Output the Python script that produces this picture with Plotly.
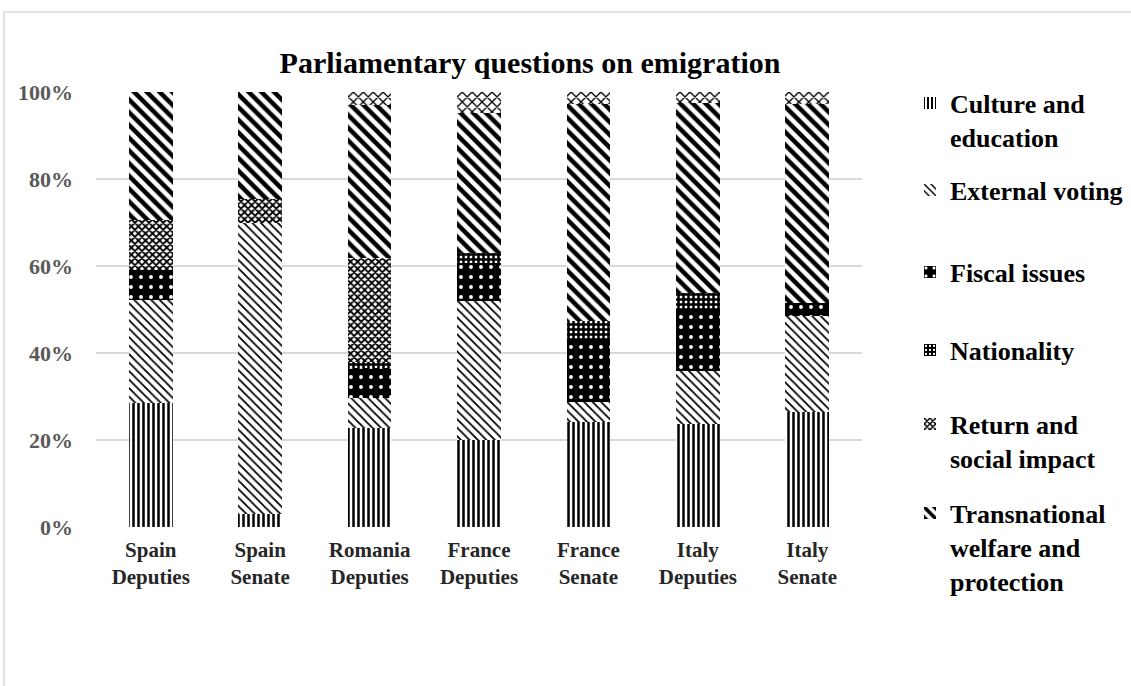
import plotly.graph_objects as go

categories = ["Spain<br>Deputies", "Spain<br>Senate", "Romania<br>Deputies", "France<br>Deputies",
              "France<br>Senate", "Italy<br>Deputies", "Italy<br>Senate"]

culture = [28.4, 3.1, 22.7, 20.1, 24.1, 23.6, 26.5]
external_voting = [23.8, 66.7, 6.9, 31.9, 4.7, 12.3, 22.0]
fiscal = [6.9, 0, 6.9, 8.8, 14.3, 14.0, 3.1]
nationality = [0, 0, 1.5, 2.1, 4.3, 4.0, 0]
return_social = [11.5, 5.7, 23.8, 0, 0, 0, 0]
transnational = [29.4, 24.5, 35.2, 32.2, 49.8, 43.5, 45.6]
other = [0, 0, 3.0, 4.9, 2.8, 2.6, 2.8]

series_names = ["Culture and<br>education", "External voting", "Fiscal issues", "Nationality",
                "Return and<br>social impact", "Transnational<br>welfare and<br>protection", "Other"]
series_values = [culture, external_voting, fiscal, nationality, return_social, transnational, other]

y_tickvals = [0, 20, 40, 60, 80, 100]
y_ticktext = ["0%", "20%", "40%", "60%", "80%", "100%"]

patterns = [
    dict(shape="|", fgcolor="black", bgcolor="white", size=5, solidity=0.5, fillmode="replace"),
    dict(shape="\\", fgcolor="black", bgcolor="white", size=6, solidity=0.3, fillmode="replace"),
    dict(shape=".", fgcolor="white", bgcolor="black", size=10, solidity=0.12, fillmode="replace"),
    dict(shape="+", fgcolor="black", bgcolor="white", size=5, solidity=0.75, fillmode="replace"),
    dict(shape="x", fgcolor="black", bgcolor="white", size=5, solidity=0.6, fillmode="replace"),
    dict(shape="\\", fgcolor="black", bgcolor="white", size=9, solidity=0.5, fillmode="replace"),
    dict(shape="x", fgcolor="black", bgcolor="white", size=7, solidity=0.35, fillmode="replace"),
]

W, H = 1131, 686
L, R, T, B = 96, 862, 92, 527

legend_centers_px = [120, 190, 272, 350, 441, 547]

fig = go.Figure()
for i, (name, vals, pat) in enumerate(zip(series_names, series_values, patterns)):
    tr = dict(
        x=categories, y=vals, name=name,
        marker=dict(color="white", pattern=pat, line=dict(width=0)),
        hovertemplate="%{x}: %{y:.1f}%<extra>" + name + "</extra>",
    )
    if i < 6:
        tr["legend"] = "legend" if i == 0 else f"legend{i+1}"
    else:
        tr["showlegend"] = False
    fig.add_trace(go.Bar(**tr))

font_family = "Liberation Serif"
layout_legends = {}
for i, cy in enumerate(legend_centers_px):
    key = "legend" if i == 0 else f"legend{i+1}"
    layout_legends[key] = dict(
        x=(910 - L) / (R - L), xanchor="left",
        y=(B - cy) / (B - T), yanchor="middle",
        font=dict(family=font_family, size=26, color="black", weight="bold"),
        bgcolor="rgba(0,0,0,0)", itemwidth=30, traceorder="normal", valign="top",
    )

fig.update_layout(
    width=W, height=H,
    margin=dict(l=L, r=W - R, t=T, b=H - B, autoexpand=False),
    barmode="stack", bargap=0.6,
    paper_bgcolor="white", plot_bgcolor="white",
    font=dict(family=font_family),
    title=dict(text="Parliamentary questions on emigration", x=530 / W, xanchor="center",
               xref="container", y=1 - 62 / H, yanchor="middle", yref="container",
               font=dict(family=font_family, size=30, color="black", weight="bold")),
    xaxis=dict(showgrid=False, zeroline=False, showline=False, ticks="",
               tickfont=dict(family=font_family, size=21, color="#262626", weight="bold"),
               ticklabelstandoff=8),
    yaxis=dict(range=[0, 100], tickmode="array", tickvals=y_tickvals, ticktext=y_ticktext,
               showgrid=True, gridcolor="#d9d9d9", gridwidth=1.5, zeroline=False, showline=False,
               tickfont=dict(family=font_family, size=22, color="#595959", weight="bold"),
               ticklabelstandoff=22),
    showlegend=True,
    **layout_legends,
)

# outer chart border
fig.add_shape(type="rect", xref="paper", yref="paper",
              x0=(4 - L) / (R - L), x1=(1140 - L) / (R - L),
              y0=(B - 700) / (B - T), y1=(B - 12) / (B - T),
              line=dict(color="#d9d9d9", width=1.5), fillcolor="rgba(0,0,0,0)", layer="below")

fig.write_html("out.html")
